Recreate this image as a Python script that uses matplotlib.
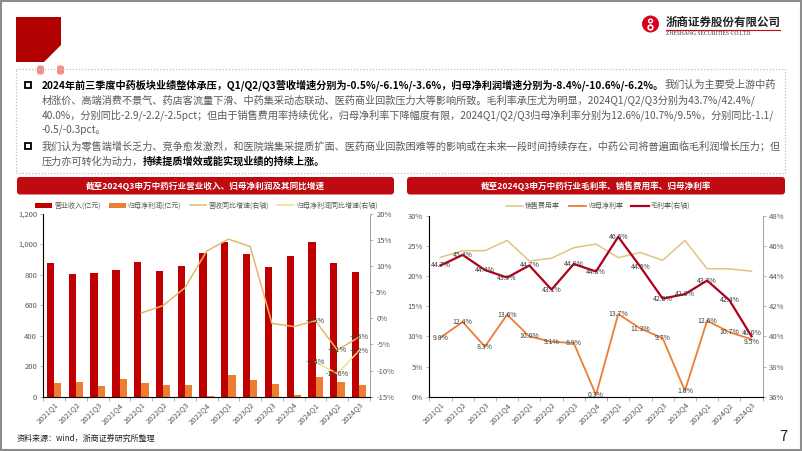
import matplotlib
matplotlib.use('Agg')
import matplotlib.pyplot as plt
from matplotlib.patches import Rectangle, Polygon, FancyBboxPatch, Circle
from matplotlib.ticker import FuncFormatter, FixedLocator
import numpy as np

plt.rcParams['font.family'] = ['Noto Sans CJK SC', 'DejaVu Sans']

# ---------------- data ----------------
quarters = ['2021Q1', '2021Q2', '2021Q3', '2021Q4', '2022Q1', '2022Q2', '2022Q3', '2022Q4',
            '2023Q1', '2023Q2', '2023Q3', '2023Q4', '2024Q1', '2024Q2', '2024Q3']
revenue = [875, 803, 809, 833, 881, 822, 857, 940, 1016, 936, 848, 922, 1012, 879, 818]
profit = [87, 98, 70, 118, 90, 77, 79, 6, 142, 109, 85, 13, 131, 96, 79]
rev_yoy = [np.nan, np.nan, np.nan, np.nan, 1.0, 2.4, 5.8, 12.8, 15.1, 13.7, -1.0, -1.6, -0.5, -6.1, -3.6]
prof_yoy = [np.nan] * 12 + [-8.4, -10.6, -6.2]

sales_rate = [23.1, 24.2, 24.2, 25.9, 22.5, 22.95, 24.7, 25.3, 23.05, 23.9, 22.6, 25.9, 21.2, 21.2, 20.8]
net_margin = [9.8, 12.4, 8.3, 13.6, 10.0, 9.1, 8.9, 0.3, 13.7, 11.3, 9.7, 1.0, 12.6, 10.7, 9.5]
gross_margin = [44.7, 45.4, 44.4, 43.9, 44.7, 43.1, 44.8, 44.3, 46.6, 44.6, 42.5, 42.8, 43.7, 42.4, 40.0]

title_left = '截至2024Q3申万中药行业营业收入、归母净利润及其同比增速'
title_right = '截至2024Q3申万中药行业毛利率、销售费用率、归母净利率'
legend_left = ['营业收入(亿元)', '归母净利润(亿元)', '营收同比增速(右轴)', '归母净利润同比增速(右轴)']
legend_right = ['销售费用率', '归母净利率', '毛利率(右轴)']

para_lines = [
    [('2024年前三季度中药板块业绩整体承压，Q1/Q2/Q3营收增速分别为-0.5%/-6.1%/-3.6%，归母净利润增速分别为-8.4%/-10.6%/-6.2%。', True),
     ('我们认为主要受上游中药', False)],
    [('材涨价、高端消费不景气、药店客流量下滑、中药集采动态联动、医药商业回款压力大等影响所致。毛利率承压尤为明显，2024Q1/Q2/Q3分别为43.7%/42.4%/', False)],
    [('40.0%，分别同比-2.9/-2.2/-2.5pct；但由于销售费用率持续优化，归母净利率下降幅度有限，2024Q1/Q2/Q3归母净利率分别为12.6%/10.7%/9.5%，分别同比-1.1/', False)],
    [('-0.5/-0.3pct。', False)],
    [('我们认为零售端增长乏力、竞争愈发激烈，和医院端集采提质扩面、医药商业回款困难等的影响或在未来一段时间持续存在，中药公司将普遍面临毛利润增长压力；但', False)],
    [('压力亦可转化为动力，', False), ('持续提质增效或能实现业绩的持续上涨。', True)],
]

# ---------------- figure ----------------
W, H = 802, 451
fig = plt.figure(figsize=(W / 100, H / 100), dpi=100)
fig.patch.set_facecolor('white')
bg = fig.add_axes([0, 0, 1, 1], zorder=0)
bg.set_xlim(0, W)
bg.set_ylim(H, 0)
bg.axis('off')
renderer = fig.canvas.get_renderer()

RED = '#C00000'
ORANGE = '#ED7D31'
GRAY_TXT = '#595959'
SPINE = '#A6A6A6'


def fx(x):
    return x / W


def fy(y):
    return 1 - y / H


def rect_axes(l, t, r, b):
    return [l / W, 1 - b / H, (r - l) / W, (b - t) / H]


# slide frame
bg.add_patch(Rectangle((0.8, 0.8), W - 1.6, H - 1.6, fill=False, ec='#8C8C8C', lw=1.5))

# top-left red block
bg.add_patch(Polygon([(16, 17), (61, 17), (61, 45), (44, 62), (16, 62)], closed=True, fc='#B00000', ec='none'))
for tx in (37, 57):
    bg.add_patch(FancyBboxPatch((tx, 65.5), 7, 9, boxstyle='round,pad=0,rounding_size=2.5', fc='#F28C8C', ec='none'))

# logo
bg.add_patch(Circle((650.5, 24), 8.5, fc='#D9001B', ec='none'))
bg.add_patch(Circle((650.5, 21), 2.6, fc='white', ec='none'))
bg.add_patch(Circle((650.5, 27.5), 3.2, fc='white', ec='none'))
bg.add_patch(Circle((650.5, 21), 1.2, fc='#D9001B', ec='none'))
bg.add_patch(Circle((650.5, 27.5), 1.5, fc='#D9001B', ec='none'))
bg.text(666, 22, '浙商证券股份有限公司', fontsize=8.3, color='#222222', ha='left', va='center', fontweight='bold')
bg.plot([666, 780], [29.5, 29.5], color='#D9001B', lw=0.8)
bg.text(666, 33.5, 'ZHESHANG SECURITIES CO.LTD', fontsize=4.1, color='#333333', ha='left', va='center',
        family=['Liberation Serif', 'DejaVu Serif'])

# dotted text box
bg.add_patch(Rectangle((16, 69), 769, 104, fill=False, ec='#BFBFBF', lw=0.9, ls=(0, (1, 1.5))))

# paragraph
line_y = [85, 100, 115, 130, 146, 162]
FS = 7.3
for yy, segs in zip(line_y, para_lines):
    xx = 42
    for txt, bold in segs:
        t = bg.text(xx, yy, txt, fontsize=FS, fontweight='bold' if bold else 'normal',
                    color='#000000' if bold else GRAY_TXT, ha='left', va='center')
        bb = t.get_window_extent(renderer=renderer)
        xx += bb.width
for by in (85, 146):
    bg.add_patch(Rectangle((24.5, by - 3.3), 6.5, 6.5, fill=False, ec='#000000', lw=1.3))

# section headers
for (l, r, title) in ((17, 394, title_left), (407, 785, title_right)):
    bg.add_patch(FancyBboxPatch((l, 177), r - l, 17.5, boxstyle='round,pad=0,rounding_size=3', fc='#BE0A10', ec='none'))
    bg.text((l + r) / 2, 185.8, title, fontsize=6.2, color='white', fontweight='bold', ha='center', va='center')

# footer
bg.text(17, 438, '资料来源：wind，浙商证券研究所整理', fontsize=5.8, color='#222222', ha='left', va='center')
bg.text(783, 437, '7', fontsize=10.5, color='#222222', ha='center', va='center')

x = np.arange(len(quarters))


def style_axis(ax):
    ax.spines['top'].set_visible(False)
    for s in ('left', 'right', 'bottom'):
        ax.spines[s].set_color(SPINE)
        ax.spines[s].set_linewidth(0.75)
    ax.tick_params(axis='both', labelsize=5.5, colors=SPINE, labelcolor=GRAY_TXT, length=2.5, width=0.6, pad=2)
    ax.set_xlim(-0.5, len(quarters) - 0.5)
    ax.set_xticks(x)
    ax.set_xticklabels(quarters, rotation=45, ha='right', va='top', rotation_mode='anchor')
    ax.tick_params(axis='x', length=0, pad=3)
    ax.xaxis.set_minor_locator(FixedLocator(np.arange(-0.5, len(quarters), 1.0)))
    ax.tick_params(axis='x', which='minor', length=3, color=SPINE, width=0.6)
    ax.patch.set_alpha(0)


def style_right(ax):
    ax.spines['top'].set_visible(False)
    ax.spines['right'].set_color(SPINE)
    ax.spines['right'].set_linewidth(0.75)
    ax.tick_params(axis='y', labelsize=5.5, colors=SPINE, labelcolor=GRAY_TXT, length=2.5, width=0.6, pad=2)


# ---------------- left chart ----------------
axL = fig.add_axes(rect_axes(43.3, 213.5, 370, 396.7), zorder=2)
b1 = axL.bar(x - 0.167, revenue, width=0.333, color=RED, label=legend_left[0])
b2 = axL.bar(x + 0.167, profit, width=0.333, color=ORANGE, label=legend_left[1])
axL.set_ylim(0, 1200)
axL.set_yticks(np.arange(0, 1201, 200))
axL.yaxis.set_major_formatter(FuncFormatter(lambda v, p: f'{v:,.0f}'))
style_axis(axL)
axL2 = axL.twinx()
l1, = axL2.plot(x, rev_yoy, color='#E3B76B', lw=1.1, label=legend_left[2])
l2, = axL2.plot(x, prof_yoy, color='#F7DA8A', lw=1.1, label=legend_left[3])
axL2.set_ylim(-15, 20)
axL2.set_yticks(np.arange(-15, 21, 5))
axL2.yaxis.set_major_formatter(FuncFormatter(lambda v, p: f'{v:.0f}%'))
style_right(axL2)
for i in range(12, 15):
    axL2.text(x[i], rev_yoy[i], f'{rev_yoy[i]:.1f}%', fontsize=5.2, color='#404040', ha='center', va='center')
    axL2.text(x[i], prof_yoy[i], f'{prof_yoy[i]:.1f}%', fontsize=5.2, color='#404040', ha='center', va='center')

fig.legend([b1, b2, l1, l2], legend_left, loc='center', bbox_to_anchor=(fx(206.5), fy(206)), ncol=4,
           frameon=False, fontsize=5.0, handlelength=2.4, handleheight=0.8, columnspacing=1.2, handletextpad=0.3,
           labelcolor=GRAY_TXT)

# ---------------- right chart ----------------
axR = fig.add_axes(rect_axes(429.3, 215.7, 762.7, 396.7), zorder=2)
s1, = axR.plot(x, sales_rate, color='#E3C47F', lw=1.1, label=legend_right[0])
s2, = axR.plot(x, net_margin, color=ORANGE, lw=1.3, label=legend_right[1])
axR.set_ylim(0, 30)
axR.set_yticks(np.arange(0, 31, 5))
axR.yaxis.set_major_formatter(FuncFormatter(lambda v, p: f'{v:.0f}%'))
style_axis(axR)
for i in range(len(quarters)):
    dy = -0.4 if i == len(quarters) - 1 else 0
    axR.text(x[i], net_margin[i] + dy, f'{net_margin[i]:.1f}%', fontsize=5, color='#404040', ha='center', va='center', zorder=5)
axR2 = axR.twinx()
s3, = axR2.plot(x, gross_margin, color='#B0001A', lw=1.6, label=legend_right[2])
axR2.set_ylim(36, 48)
axR2.set_yticks(np.arange(36, 49, 2))
axR2.yaxis.set_major_formatter(FuncFormatter(lambda v, p: f'{v:.0f}%'))
style_right(axR2)
for i in range(len(quarters)):
    dy = 0.25 if i == len(quarters) - 1 else 0
    axR2.text(x[i], gross_margin[i] + dy, f'{gross_margin[i]:.1f}%', fontsize=5, color='#404040', ha='center', va='center', zorder=5)

fig.legend([s1, s2, s3], legend_right, loc='center', bbox_to_anchor=(fx(598), fy(206)), ncol=3,
           frameon=False, fontsize=5.0, handlelength=2.5, columnspacing=1.2, handletextpad=0.3,
           labelcolor=GRAY_TXT)

fig.savefig('out.png', dpi=100)
